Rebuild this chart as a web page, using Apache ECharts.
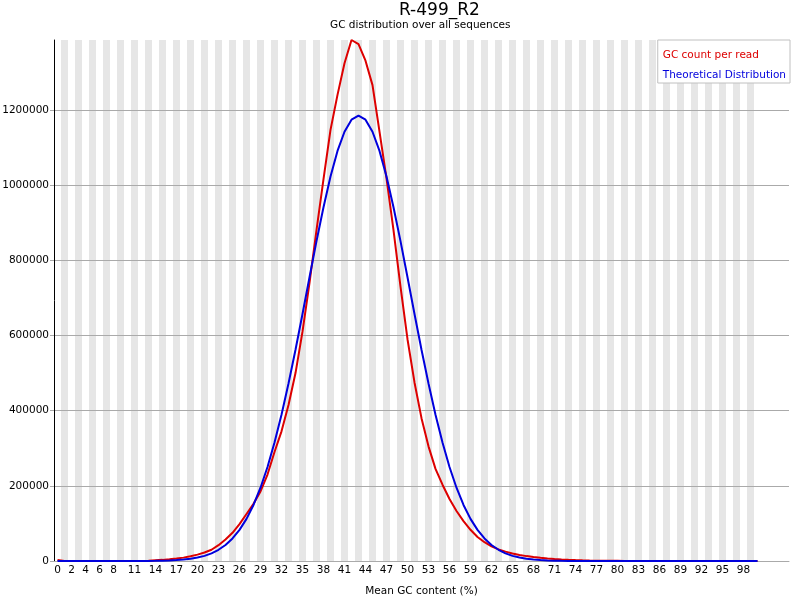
<!DOCTYPE html>
<html>
<head>
    <meta charset="utf-8">
    <title>GC distribution</title>
    <script src="https://cdn.jsdelivr.net/npm/echarts@6/dist/echarts.min.js"></script>
</head>
<body style="margin:0;background:#fff">
<div id="main" style="width: 800px;height:600px;"></div>
<script type="text/javascript">
    // labels FastQC printed under the x axis (mean GC %)
    var xTickLabels = [0, 2, 4, 6, 8, 11, 14, 17, 20, 23, 26, 29, 32, 35, 38, 41, 44, 47, 50,
        53, 56, 59, 62, 65, 68, 71, 74, 77, 80, 83, 86, 89, 92, 95, 98];
    var yTicks = [0, 200000, 400000, 600000, 800000, 1000000, 1200000];
    var yMax = 1386000;

    // read counts per mean GC (%) 0..100
    var gcCount = [
        2500, 0, 0, 0, 0, 0, 0, 0, 0, 0,
        0, 100, 300, 900, 2000, 3000, 4500, 6500, 9000, 12500,
        17000, 22500, 30000, 42000, 57000, 75000, 98000, 125000, 152000, 185000,
        230000, 290000, 345000, 415000, 500000, 610000, 740000, 880000, 1016000, 1147000,
        1240000, 1324000, 1386000, 1375000, 1331000, 1266000, 1142000, 1018000, 880000, 730000,
        590000, 475000, 380000, 305000, 245000, 203000, 165000, 133000, 106000, 83000,
        64000, 50000, 39000, 31000, 25000, 20000, 16000, 13000, 10500, 8500,
        6800, 5300, 4200, 3200, 2400, 1800, 1300, 900, 700, 500,
        400, 300, 250, 200, 150, 120, 100, 80, 60, 50,
        40, 30, 25, 20, 15, 10, 8, 5, 3, 2,
        1
    ];
    // theoretical distribution
    var theoretical = [
        0, 0, 0, 0, 0, 0, 0, 0, 10, 20,
        50, 90, 160, 290, 510, 870, 1440, 2350, 3750, 5890,
        9080, 13700, 20400, 29800, 42600, 60000, 82800, 112000, 149000, 195000,
        250000, 315000, 389000, 472000, 562000, 657000, 755000, 851000, 941000, 1023000,
        1091000, 1142000, 1174000, 1185000, 1174000, 1142000, 1091000, 1023000, 941000, 851000,
        755000, 657000, 562000, 472000, 389000, 315000, 250000, 195000, 149000, 112000,
        82800, 60000, 42600, 29800, 20400, 13700, 9080, 5890, 3750, 2350,
        1440, 870, 510, 290, 160, 90, 50, 20, 10, 0,
        0, 0, 0, 0, 0, 0, 0, 0, 0, 0,
        0, 0, 0, 0, 0, 0, 0, 0, 0, 0,
        0
    ];

    var redColor = '#dd0000';
    var blueColor = '#0000dd';

    // pair each value with its GC percentage (array index)
    function withPercent(arr) {
        var out = [];
        for (var i = 0; i < arr.length; i++) {
            out.push([i, arr[i]]);
        }
        return out;
    }

    // alternating grey bands, one for every odd percentage up to 99
    var stripes = [];
    for (var s = 1; s < 100; s += 2) {
        stripes.push([{xAxis: s - 0.5}, {xAxis: s + 0.5}]);
    }

    var myChart = echarts.init(document.getElementById('main'));

    var option = {
        animation: false,
        backgroundColor: '#fff',
        textStyle: {fontFamily: 'DejaVu Sans'},
        title: [
            {
                text: 'R-499_R2',
                left: 399, top: 2, padding: 0,
                textStyle: {fontSize: 17, fontWeight: 'normal', color: '#000'}
            },
            {
                text: 'GC distribution over all sequences',
                left: 330, top: 20, padding: 0,
                textStyle: {fontSize: 10.5, fontWeight: 'normal', color: '#000'}
            }
        ],
        legend: {
            right: 10,
            top: 40,
            orient: 'vertical',
            icon: 'none',
            itemWidth: 0,
            itemHeight: 12,
            itemGap: 9,
            padding: [9, 4, 2, 0],
            borderColor: '#c0c0c0',
            borderWidth: 1,
            backgroundColor: '#fff',
            selectedMode: false,
            textStyle: {fontSize: 10.5},
            data: [
                {name: 'GC count per read', textStyle: {color: redColor}},
                {name: 'Theoretical Distribution', textStyle: {color: blueColor}}
            ]
        },
        grid: {left: 54, right: 11, top: 40, bottom: 39, outerBoundsMode: 'none', containLabel: false},
        xAxis: {
            type: 'value',
            min: -0.5,
            max: 104.5,
            name: 'Mean GC content (%)',
            nameLocation: 'middle',
            nameGap: 25,
            nameTextStyle: {fontSize: 10.5, color: '#000'},
            axisLine: {show: true, onZero: false, lineStyle: {color: '#aaaaaa'}},
            axisTick: {show: false},
            axisLabel: {
                color: '#000',
                fontSize: 10.5,
                margin: 4,
                customValues: xTickLabels,
                showMinLabel: true,
                showMaxLabel: true
            },
            splitLine: {show: false}
        },
        yAxis: {
            type: 'value',
            min: 0,
            max: yMax,
            interval: 200000,
            axisLine: {show: true, onZero: false, lineStyle: {color: '#000'}},
            axisTick: {show: true, length: 4, lineStyle: {color: '#aaaaaa'}, customValues: yTicks},
            axisLabel: {
                color: '#000',
                fontSize: 10.5,
                margin: 5,
                customValues: yTicks,
                formatter: function (v) { return String(v); }
            },
            splitLine: {show: true, lineStyle: {color: '#aaaaaa'}}
        },
        series: [
            {
                name: 'GC count per read',
                type: 'line',
                data: withPercent(gcCount),
                symbol: 'none',
                lineStyle: {color: redColor, width: 2},
                itemStyle: {color: redColor},
                markArea: {
                    silent: true,
                    z: -1,
                    itemStyle: {color: '#e6e6e6'},
                    data: stripes
                }
            },
            {
                name: 'Theoretical Distribution',
                type: 'line',
                data: withPercent(theoretical),
                symbol: 'none',
                lineStyle: {color: blueColor, width: 2},
                itemStyle: {color: blueColor}
            }
        ]
    };

    myChart.setOption(option);
</script>
</body>
</html>
